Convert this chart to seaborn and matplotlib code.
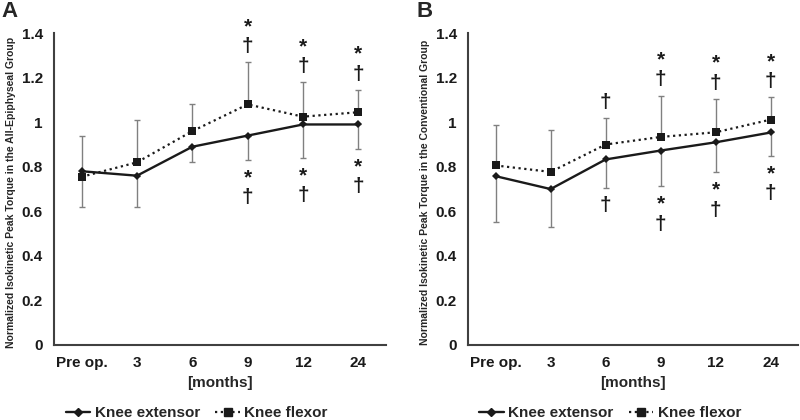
import numpy as np
import pandas as pd
import matplotlib
matplotlib.use('Agg')
import matplotlib.pyplot as plt
import seaborn as sns
from matplotlib.lines import Line2D

categories = ['Pre op.', '3', '6', '9', '12', '24']

# panel A: all-epiphyseal group
a_ext = [0.78, 0.76, 0.89, 0.94, 0.99, 0.99]
a_ext_sd = [0.16, 0.14, 0.07, 0.11, 0.15, 0.11]
a_flex = [0.755, 0.82, 0.96, 1.08, 1.025, 1.045]
a_flex_sd = [0.185, 0.19, 0.12, 0.19, 0.155, 0.10]
a_marks_up = ['', '', '', '†*', '†*', '†*']
a_marks_low = ['', '', '', '*†', '*†', '*†']

# panel B: conventional group
b_ext = [0.758, 0.70, 0.833, 0.873, 0.91, 0.954]
b_ext_sd = [0.205, 0.17, 0.127, 0.16, 0.135, 0.106]
b_flex = [0.806, 0.777, 0.90, 0.934, 0.955, 1.012]
b_flex_sd = [0.18, 0.19, 0.12, 0.186, 0.15, 0.10]
b_marks_up = ['', '', '†', '†*', '†*', '†*']
b_marks_low = ['', '', '†', '*†', '*†', '*†']

sns.set_style('white')
plt.rcParams['font.family'] = ['Liberation Sans', 'DejaVu Sans']
plt.rcParams['font.weight'] = 'bold'

fig = plt.figure(figsize=(8, 4.2), dpi=100)
ax_a = fig.add_axes([0.0675, 0.1786, 0.415, 0.7425])
ax_b = fig.add_axes([0.585, 0.1786, 0.413, 0.7425])

panels = [
    (ax_a, 'A', 0.002, a_ext, a_ext_sd, a_flex, a_flex_sd, a_marks_up, a_marks_low,
     'Normalized Isokinetic Peak Torque in the All-Epiphyseal Group'),
    (ax_b, 'B', 0.521, b_ext, b_ext_sd, b_flex, b_flex_sd, b_marks_up, b_marks_low,
     'Normalized Isokinetic Peak Torque in the Conventional Group'),
]

x = np.arange(len(categories))
for ax, letter, lx, ext, ext_sd, flex, flex_sd, up, low, ylab in panels:
    ext = np.array(ext)
    flex = np.array(flex)
    ext_sd = np.array(ext_sd)
    flex_sd = np.array(flex_sd)

    # error bars: flexor upward, extensor downward
    ax.errorbar(x, flex, yerr=[np.zeros_like(flex_sd), flex_sd], fmt='none',
                ecolor='#808080', elinewidth=1, capsize=2.5, capthick=1, zorder=1)
    ax.errorbar(x, ext, yerr=[ext_sd, np.zeros_like(ext_sd)], fmt='none',
                ecolor='#808080', elinewidth=1, capsize=2.5, capthick=1, zorder=1)

    df = pd.DataFrame({'x': x, 'ext': ext, 'flex': flex})
    sns.lineplot(data=df, x='x', y='flex', ax=ax, color='#1a1a1a', marker='s',
                 markersize=5.5, markeredgewidth=0, linestyle=(0, (1, 1.6)),
                 linewidth=1.6, zorder=3)
    sns.lineplot(data=df, x='x', y='ext', ax=ax, color='#1a1a1a', marker='D',
                 markersize=4, markeredgewidth=0, linewidth=1.7, zorder=4)

    # significance marks
    for i in range(len(categories)):
        top = flex[i] + flex_sd[i]
        for k, s in enumerate(up[i]):
            ax.text(x[i], top + 0.07 + 0.09 * k, s, ha='center', va='center',
                    fontsize=15, fontweight='bold', color='#1a1a1a', clip_on=False)
        bot = ext[i] - ext_sd[i]
        for k, s in enumerate(low[i]):
            ax.text(x[i], bot - 0.08 - 0.09 * k, s, ha='center', va='center',
                    fontsize=15, fontweight='bold', color='#1a1a1a', clip_on=False)

    ax.set_xlim(-0.5, len(categories) - 0.5)
    ax.set_ylim(0, 1.4)
    ax.set_xticks(x)
    ax.set_xticklabels(categories)
    ax.set_yticks([0, 0.2, 0.4, 0.6, 0.8, 1.0, 1.2, 1.4])
    ax.set_yticklabels(['0', '0.2', '0.4', '0.6', '0.8', '1', '1.2', '1.4'])
    ax.tick_params(axis='both', length=0, labelsize=11, colors='#1a1a1a')
    ax.tick_params(axis='y', pad=8)
    ax.tick_params(axis='x', pad=8)
    for lab in ax.get_xticklabels() + ax.get_yticklabels():
        lab.set_fontweight('bold')
    sns.despine(ax=ax)
    for sp in ['left', 'bottom']:
        ax.spines[sp].set_color('#404040')
        ax.spines[sp].set_linewidth(1.5)
    ax.set_xlabel('[months]', fontsize=11, fontweight='bold', labelpad=4)
    ax.set_ylabel(ylab, fontsize=7.5, fontweight='bold')
    ax.yaxis.set_label_coords(-0.115, 0.49)
    fig.text(lx, 0.998, letter, fontsize=16, fontweight='bold', ha='left', va='top')

    handles = [
        Line2D([], [], color='#1a1a1a', marker='D', markersize=4, linewidth=1.7),
        Line2D([], [], color='#1a1a1a', marker='s', markersize=5.5,
               linestyle=(0, (1, 1.6)), linewidth=1.6),
    ]
    ax.legend(handles, ['Knee extensor', 'Knee flexor'], loc='center',
              bbox_to_anchor=(0.43, -0.218), ncol=2, frameon=False,
              prop={'size': 11, 'weight': 'bold'}, handlelength=1.6,
              handletextpad=0.3, columnspacing=1.0, borderpad=0)

fig.savefig('out.png', dpi=100)
